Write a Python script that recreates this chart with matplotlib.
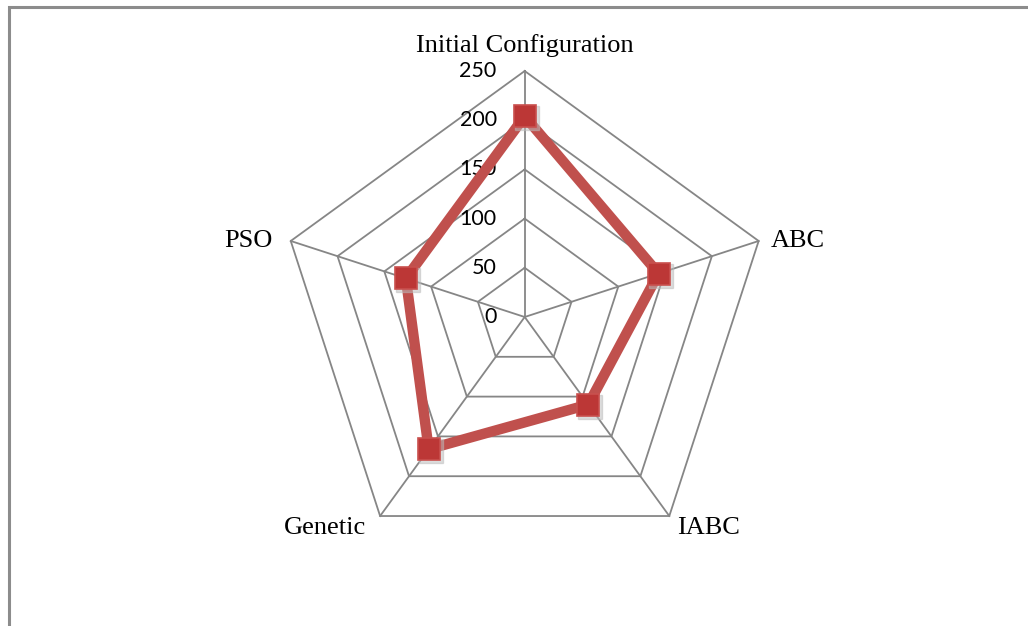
import numpy as np
import matplotlib
matplotlib.use('Agg')
import matplotlib.pyplot as plt
from matplotlib.patches import Rectangle

# Radar chart data
categories = ['Initial Configuration', 'ABC', 'IABC', 'Genetic', 'PSO']
values = [204, 143, 110, 166, 127]
ticks = [0, 50, 100, 150, 200, 250]
r_max = 250

fig = plt.figure(figsize=(10.28, 6.26), dpi=100)
ax = fig.add_axes([0, 0, 1, 1])

# pixel layout -> data units (value units), center of the radar at (0, 0)
k = 250 / 246.0
cx, cy = 524.7, 317.0
ax.set_xlim(-cx * k, (1028 - cx) * k)
ax.set_ylim(-(626 - cy) * k, cy * k)
ax.axis('off')

n = len(categories)
angles = np.pi / 2 - np.arange(n) * 2 * np.pi / n

# grid rings and spokes
grid_col = '#868686'
for t in ticks[1:]:
    xs = t * np.cos(np.append(angles, angles[0]))
    ys = t * np.sin(np.append(angles, angles[0]))
    ax.plot(xs, ys, color=grid_col, lw=1.3, zorder=1)
for a in angles:
    ax.plot([0, r_max * np.cos(a)], [0, r_max * np.sin(a)], color=grid_col, lw=1.3, zorder=1)

# tick labels
for t in ticks:
    ax.text(-28 * k, t, str(t), ha='right', va='center', fontsize=15.5,
            family='Lato', color='black')

# category labels
serif = 'Liberation Serif'
fs = 19
ax.text(0, r_max + 19 * k, categories[0], ha='center', va='baseline', fontsize=fs, family=serif)
for i, a in enumerate(angles[1:], start=1):
    x = r_max * np.cos(a)
    y = r_max * np.sin(a)
    if i == 1:
        ax.text(x + 12 * k, y, categories[i], ha='left', va='center', fontsize=fs, family=serif)
    elif i == 4:
        ax.text(x - 18 * k, y, categories[i], ha='right', va='center', fontsize=fs, family=serif)
    elif i == 2:
        ax.text(x + 8 * k, y - 12 * k, categories[i], ha='left', va='center', fontsize=fs, family=serif)
    else:
        ax.text(x - 14 * k, y - 12 * k, categories[i], ha='right', va='center', fontsize=fs, family=serif)

# series
v = np.array(values)
xs = np.append(v * np.cos(angles), v[0] * np.cos(angles[0]))
ys = np.append(v * np.sin(angles), v[0] * np.sin(angles[0]))
ax.plot(xs, ys, color='#C0504D', lw=7.5, solid_joinstyle='miter', zorder=3)
# marker shadow
ax.plot(xs[:-1] + 2 * k, ys[:-1] - 2 * k, ls='none', marker='s', markersize=17,
        color='#bbbbbb', alpha=0.5, zorder=3.5)
ax.plot(xs[:-1], ys[:-1], ls='none', marker='s', markersize=16,
        markerfacecolor='#BC3736', markeredgecolor='#C9504E', markeredgewidth=1.2, zorder=4)

# chart frame (only top and left visible)
fig.patches.append(Rectangle((9 / 1028, -0.1), 1.2, (626 - 6.5) / 626 + 0.1,
                             transform=fig.transFigure, fill=False,
                             edgecolor='#8c8c8c', lw=2.2))

fig.savefig('out.png', dpi=100)
